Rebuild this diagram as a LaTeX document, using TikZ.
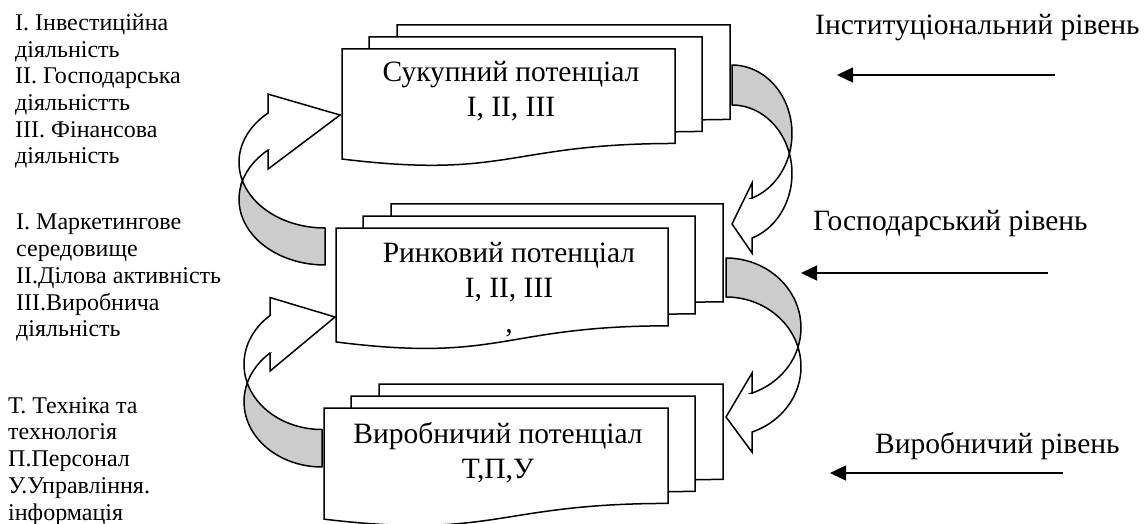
\documentclass[tikz,border=0pt]{standalone}
\usepackage{fontspec}
\setmainfont{Liberation Serif}
\usetikzlibrary{arrows.meta}

\tikzset{
  doc/.style={draw, fill=white, line width=1.5pt},
  backband/.style={draw, fill=gray!40, line width=1.5pt, line join=round},
  frontband/.style={draw, fill=white, line width=1.5pt},
  boxtext/.style={font=\fontsize{29.5}{35}\selectfont, align=center, anchor=base, inner sep=0pt},
  sidetext/.style={font=\fontsize{24}{26.7}\selectfont, align=left, anchor=base west, inner sep=0pt},
  leveltext/.style={font=\fontsize{29.5}{35}\selectfont, anchor=base west, inner sep=0pt},
  levelarrow/.style={line width=1.5pt, -{Triangle[length=16pt,width=15pt]}}
}

% one page of a stack: top-left x, y, width, height
\newcommand{\docpage}[4]{%
  \draw[doc] (#1,#2) -- ({#1+#3},#2) -- ({#1+#3},{#2+0.802*#4})
    .. controls ({#1+0.5*#3},{#2+0.802*#4}) and ({#1+0.5*#3},{#2+1.107*#4}) .. (#1,{#2+0.934*#4}) -- cycle;}
\newcommand{\docstack}[4]{%
  \docpage{#1+55}{#2-24}{#3}{#4}
  \docpage{#1+27}{#2-12}{#3}{#4}
  \docpage{#1}{#2}{#3}{#4}}

% curved arrow: frame, a, b, thickness, end x, barb, tip x, tip y
\newcommand{\bendarrow}[8]{%
  \begin{scope}[#1]
    \pgfmathsetmacro\pc{acos(-#4/(2*#3))}
    \pgfmathsetmacro\qc{180-\pc}
    \pgfmathsetmacro\pe{180-asin(#5/#2)}
    \pgfmathsetmacro\ny{#3-#3*cos(\pe)}
    \filldraw[backband] plot[domain=0:\pc, samples=30] ({#2*sin(\x)},{#3-#3*cos(\x)})
      -- plot[domain=\qc:0, samples=30] ({#2*sin(\x)},{#3+#4-#3*cos(\x)}) -- cycle;
    \filldraw[frontband] plot[domain=\qc:\pe, samples=30] ({#2*sin(\x)},{#3+#4-#3*cos(\x)})
      -- (#5,{\ny+#4+#6}) -- (#7,#8) -- (#5,{\ny-#6}) -- (#5,\ny)
      -- plot[domain=\pe:\pc, samples=20] ({#2*sin(\x)},{#3-#3*cos(\x)}) -- cycle;
  \end{scope}}

\begin{document}
\begin{tikzpicture}[x=1pt, y=-1pt]
  \useasboundingbox (0,0) rectangle (1144,524);

  \docstack{342}{49}{333}{117.8}
  \docstack{336}{228}{332}{122}
  \docstack{324}{408}{344}{119}

  % base anchor sits on the last line
  \node[boxtext] (sukup) at (511,116.7) {Сукупний потенціал\\I, II, III};
  \node[boxtext] (rynok) at (509,332) {Ринковий потенціал\\I, II, III\\,};
  \node[boxtext] (vyrob) at (498,478) {Виробничий потенціал\\Т,П,У};

  \bendarrow{shift={(732,65)}}{60}{68.5}{40}{20}{15}{0}{159}
  \bendarrow{shift={(726,258)}}{75}{69.7}{39}{26}{20}{0}{159}
  \bendarrow{shift={(325,265)}, rotate=180}{86}{65.7}{37}{57}{19}{-15}{150}
  \bendarrow{shift={(322,467)}, rotate=180}{78}{65.3}{37.5}{52}{18}{-13}{150}

  \node[sidetext] (invest) at (15,164) {I. Інвестиційна\\діяльність\\II. Господарська\\діяльністть\\III. Фінансова\\діяльність};
  \node[sidetext] (market) at (16,336.7) {І. Маркетингове\\середовище\\II.Ділова активність\\III.Виробнича\\діяльність};
  \node[sidetext] (tech) at (8,520) {Т. Техніка та\\технологія\\П.Персонал\\У.Управління.\\інформація};

  \node[leveltext] (instlvl) at (815,35) {Інституціональний рівень};
  \node[leveltext] (gosplvl) at (813,230) {Господарський рівень};
  \node[leveltext] (vyrlvl) at (875,453) {Виробничий рівень};

  \coordinate (a1s) at (1055,75);
  \coordinate (a1e) at (837,75);
  \coordinate (a2s) at (1048,273);
  \coordinate (a2e) at (801,273);
  \coordinate (a3s) at (1063,473);
  \coordinate (a3e) at (830,473);
  \draw[levelarrow] (a1s) -- (a1e);
  \draw[levelarrow] (a2s) -- (a2e);
  \draw[levelarrow] (a3s) -- (a3e);
\end{tikzpicture}
\end{document}
